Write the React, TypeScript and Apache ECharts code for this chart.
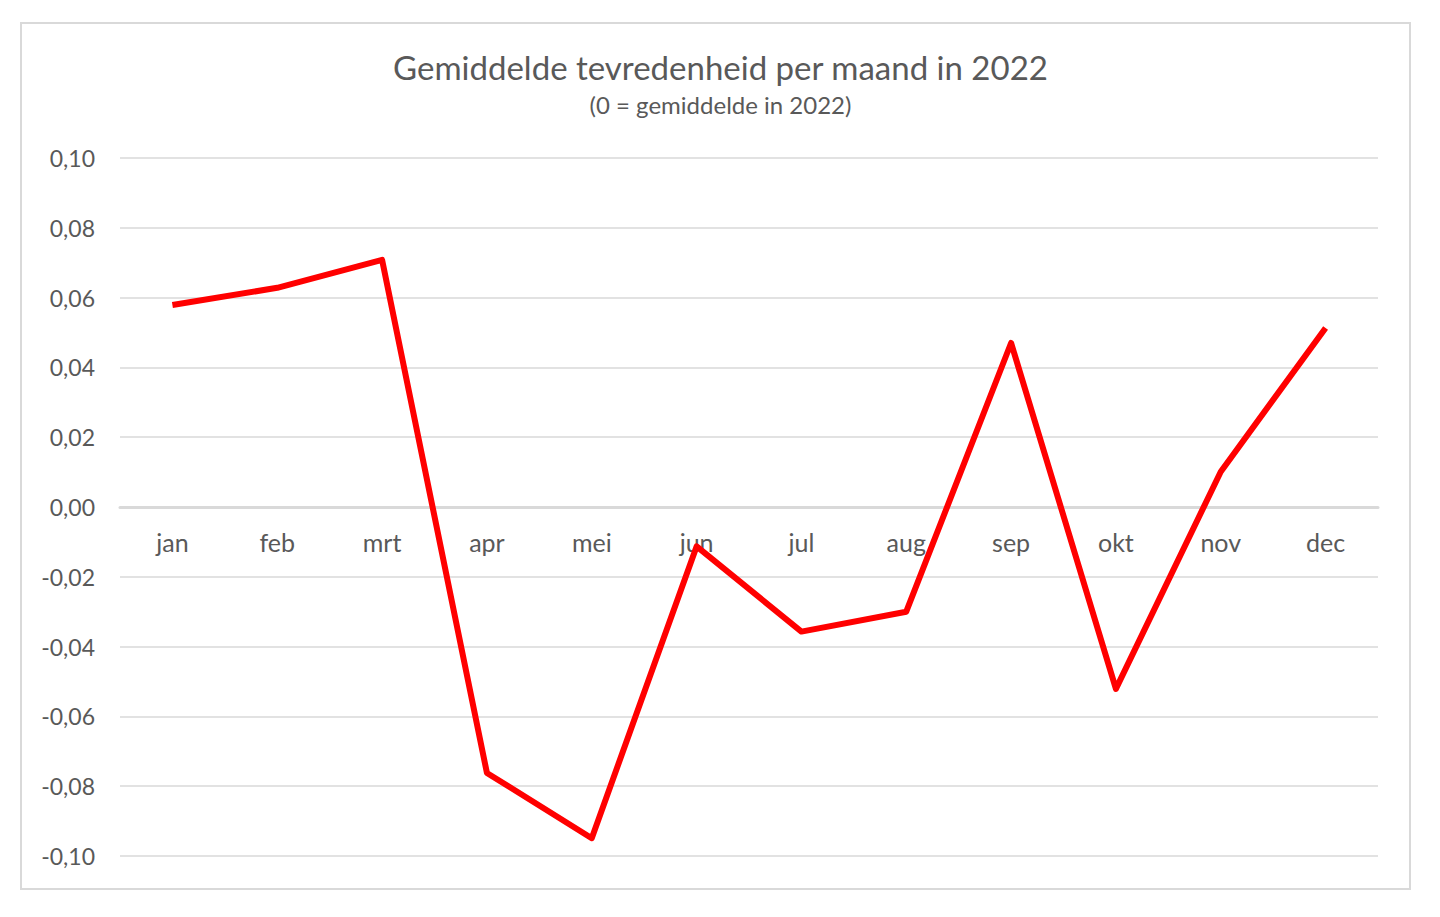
import React, { useEffect, useRef } from "react";
import * as echarts from "echarts";

const months = ["jan", "feb", "mrt", "apr", "mei", "jun", "jul", "aug", "sep", "okt", "nov", "dec"];
const satisfaction = [0.0579, 0.0628, 0.0708, -0.0762, -0.0949, -0.0113, -0.0357, -0.0300, 0.0470, -0.0521, 0.0101, 0.0513];
const titleText = "Gemiddelde tevredenheid per maand in 2022";
const subtitleText = "(0 = gemiddelde in 2022)";
const yMin = -0.1;
const yMax = 0.1;
const yStep = 0.02;

const FONT = "Lato, 'Noto Sans', sans-serif";
const TEXT = "#595959";
const GRID = "#d9d9d9";

export default function App() {
  const ref = useRef<HTMLDivElement>(null);
  useEffect(() => {
    if (!ref.current) return;
    const chart = echarts.init(ref.current, null, { renderer: "svg" });
    const gridTop = 158;
    const gridBottom = 61;
    const plotH = 917 - gridTop - gridBottom;
    const zeroOffset = -plotH * (0 - yMin) / (yMax - yMin);
    chart.setOption({
      animation: false,
      backgroundColor: "#ffffff",
      textStyle: { fontFamily: FONT },
      title: {
        text: titleText,
        subtext: subtitleText,
        left: 715.5,
        textAlign: "center",
        top: 45,
        itemGap: 9,
        textStyle: { fontFamily: FONT, fontSize: 33, fontWeight: "normal", color: TEXT },
        subtextStyle: { fontFamily: FONT, fontSize: 24, color: TEXT },
      },
      graphic: [
        {
          type: "rect",
          shape: { x: 21, y: 23, width: 1389, height: 866 },
          style: { fill: "none", stroke: GRID, lineWidth: 2 },
          z: -1,
        },
      ],
      grid: { left: 120, right: 62, top: gridTop, bottom: gridBottom, containLabel: false },
      xAxis: {
        type: "category",
        data: months,
        boundaryGap: true,
        offset: zeroOffset,
        axisLine: { show: true, onZero: false, lineStyle: { color: GRID, width: 3 } },
        axisTick: { show: false },
        axisLabel: { margin: 22, fontFamily: FONT, fontSize: 25, color: TEXT },
        splitLine: { show: false },
      },
      yAxis: {
        type: "value",
        min: yMin,
        max: yMax,
        interval: yStep,
        axisLine: { show: false },
        axisTick: { show: false },
        axisLabel: {
          margin: 25,
          fontFamily: FONT,
          fontSize: 23,
          color: TEXT,
          formatter: (v: number) => v.toFixed(2).replace(".", ",").replace("-0,00", "0,00"),
        },
        splitLine: { show: true, lineStyle: { color: GRID, width: 1.5 } },
      },
      series: [
        {
          type: "line",
          data: satisfaction,
          showSymbol: false,
          symbol: "none",
          lineStyle: { color: "#ff0000", width: 6, join: "round" },
          z: 5,
        },
      ],
    });
    return () => chart.dispose();
  }, []);
  return (
    <div
      ref={ref}
      style={{ position: "fixed", left: 0, top: 0, width: 1440, height: 917, background: "#ffffff" }}
    />
  );
}
